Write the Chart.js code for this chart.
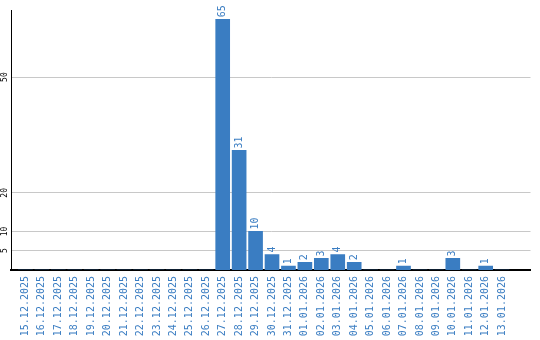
<!DOCTYPE html>
<html>
<head>
  <meta charset="utf-8">
  <title>Daily counts</title>
  <script src="https://cdn.jsdelivr.net/npm/chart.js"></script>
  <style>
    html, body { margin: 0; padding: 0; background: #fff; }
    #wrap { width: 540px; height: 340px; }
  </style>
</head>
<body>
  <div id="wrap"><canvas id="myChart"></canvas></div>
  <script>
    // data
    var dates = ['15.12.2025', '16.12.2025', '17.12.2025', '18.12.2025', '19.12.2025',
      '20.12.2025', '21.12.2025', '22.12.2025', '23.12.2025', '24.12.2025',
      '25.12.2025', '26.12.2025', '27.12.2025', '28.12.2025', '29.12.2025',
      '30.12.2025', '31.12.2025', '01.01.2026', '02.01.2026', '03.01.2026',
      '04.01.2026', '05.01.2026', '06.01.2026', '07.01.2026', '08.01.2026',
      '09.01.2026', '10.01.2026', '11.01.2026', '12.01.2026', '13.01.2026'];
    var counts = [0, 0, 0, 0, 0, 0, 0, 0, 0, 0, 0, 0, 65, 31, 10, 4, 1, 2, 3, 4, 2, 0, 0, 1, 0, 0, 3, 0, 1, 0];
    var yTicks = [5, 10, 20, 50];

    var blue = '#3a7dc2';

    // value labels above the bars, rotated like in the original
    var barLabels = {
      id: 'barLabels',
      afterDatasetsDraw: function(chart) {
        var ctx = chart.ctx;
        var meta = chart.getDatasetMeta(0);
        ctx.save();
        ctx.font = '10px "DejaVu Sans Mono"';
        ctx.fillStyle = blue;
        ctx.textAlign = 'left';
        ctx.textBaseline = 'middle';
        meta.data.forEach(function(bar, i) {
          if (!counts[i]) return;
          ctx.save();
          ctx.translate(bar.x, bar.y - 2);
          ctx.rotate(-Math.PI / 2);
          ctx.fillText(String(counts[i]), 0, 0);
          ctx.restore();
        });
        ctx.restore();
      }
    };

    var ctx = document.getElementById('myChart').getContext('2d');
    var myChart = new Chart(ctx, {
      type: 'bar',
      data: {
        datasets: [{
          data: dates.map(function(d, i) { return { x: i, y: counts[i] }; }),
          backgroundColor: blue,
          barThickness: 14
        }]
      },
      options: {
        responsive: true,
        maintainAspectRatio: false,
        animation: false,
        layout: { padding: { top: 10, right: 9.5, left: 0, bottom: 0 } },
        plugins: {
          legend: { display: false },
          tooltip: { enabled: false }
        },
        scales: {
          x: {
            type: 'linear',
            min: -0.353,
            max: 30.2,
            grid: { display: false, drawTicks: false },
            border: { display: true, color: '#000', width: 2 },
            afterBuildTicks: function(scale) {
              scale.ticks = dates.map(function(d, i) { return { value: i }; });
            },
            afterFit: function(scale) { scale.height = 70; },
            ticks: {
              autoSkip: false,
              minRotation: 90,
              maxRotation: 90,
              padding: 6,
              color: blue,
              font: { family: 'DejaVu Sans Mono', size: 10 },
              callback: function(value) { return dates[value]; }
            }
          },
          y: {
            min: 0,
            max: 67.4,
            grid: { color: '#c8c8c8', lineWidth: 1, drawTicks: false },
            border: { display: true, color: '#000', width: 1 },
            afterBuildTicks: function(scale) {
              scale.ticks = yTicks.map(function(v) { return { value: v }; });
            },
            afterFit: function(scale) { scale.width = 11; },
            ticks: {
              minRotation: 90,
              maxRotation: 90,
              crossAlign: 'center',
              padding: 1,
              color: '#000',
              font: { family: 'DejaVu Sans Mono', size: 8 }
            }
          }
        }
      },
      plugins: [barLabels]
    });
  </script>
</body>
</html>
